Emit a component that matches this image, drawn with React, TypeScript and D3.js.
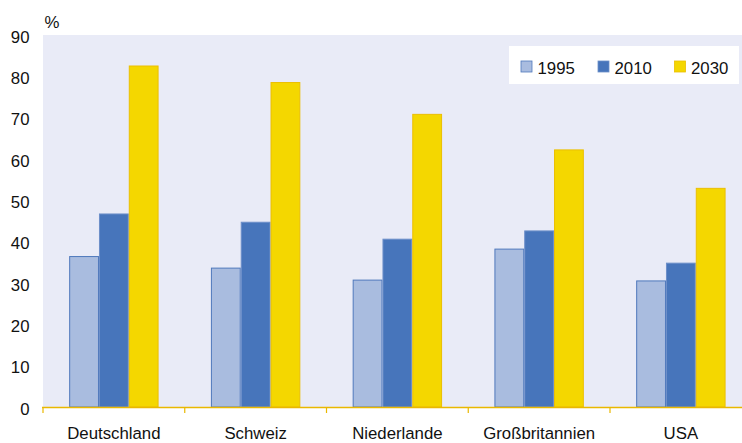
import React from "react";
import * as d3 from "d3";

const categories = ["Deutschland", "Schweiz", "Niederlande", "Großbritannien", "USA"];
const seriesNames = ["1995", "2010", "2030"];
const values1995 = [36.4, 33.6, 30.7, 38.2, 30.5];
const values2010 = [46.7, 44.7, 40.6, 42.6, 34.8];
const values2030 = [82.5, 78.5, 70.8, 62.2, 52.9];
const yTicks = [0, 10, 20, 30, 40, 50, 60, 70, 80, 90];

const fills = ["#A9BCDF", "#4775BB", "#F4D700"];
const strokes = ["#5079BC", "#6C8FC9", "#EBBF00"];

export default function App() {
  const W = 742, H = 443;
  const left = 43, top = 35, bottom = 407;
  const bandW = 141.75;
  const right = left + bandW * categories.length;
  const x = d3.scaleBand<string>().domain(categories).range([left, right]).paddingInner(0).paddingOuter(0);
  const y = d3.scaleLinear().domain([0, 90]).range([bottom, top]);
  const all = [values1995, values2010, values2030];
  const barW = 29.8;
  const font = "'Liberation Sans', Arial, sans-serif";
  const fs = 16.8;

  return (
    <svg width={W} height={H} style={{ position: "absolute", left: 0, top: 0 }} fontFamily={font}>
      <rect x={0} y={0} width={W} height={H} fill="#fff" />
      <rect x={left} y={top} width={right - left} height={bottom - top} fill="#E9EBF7" />
      {categories.map((c, i) => {
        const cx = (x(c) as number) + x.bandwidth() / 2;
        return all.map((vals, s) => {
          const bx = cx - 1.5 * barW + s * barW;
          return (
            <rect
              key={c + s}
              x={bx + 0.5}
              y={y(vals[i])}
              width={barW - 1}
              height={bottom - y(vals[i])}
              fill={fills[s]}
              stroke={strokes[s]}
              strokeWidth={1}
            />
          );
        });
      })}
      <line x1={left - 1} x2={right} y1={bottom + 0.5} y2={bottom + 0.5} stroke="#E9B800" strokeWidth={1.5} />
      {categories.map((c, i) => (
        <line key={"t" + i} x1={(x(c) as number)} x2={(x(c) as number)} y1={bottom} y2={bottom + 6} stroke="#E9B800" strokeWidth={1.2} />
      ))}
      {yTicks.map((t) => (
        <text key={t} x={29.5} y={y(t) + 7.5} textAnchor="end" fontSize={fs} fill="#111">
          {t}
        </text>
      ))}
      <text x={44.5} y={28} fontSize={fs} fill="#111">%</text>
      {categories.map((c) => (
        <text key={c} x={(x(c) as number) + x.bandwidth() / 2} y={439} textAnchor="middle" fontSize={fs} fill="#111">
          {c}
        </text>
      ))}
      <rect x={509} y={46} width={230} height={38} fill="#fff" />
      {seriesNames.map((n, s) => {
        const sx = [521, 598, 674.5][s];
        return (
          <g key={n}>
            <rect x={sx} y={61} width={11} height={11} fill={fills[s]} stroke={strokes[s]} strokeWidth={0.8} />
            <text x={sx + 16.5} y={74.3} fontSize={fs} fill="#111">{n}</text>
          </g>
        );
      })}
    </svg>
  );
}
